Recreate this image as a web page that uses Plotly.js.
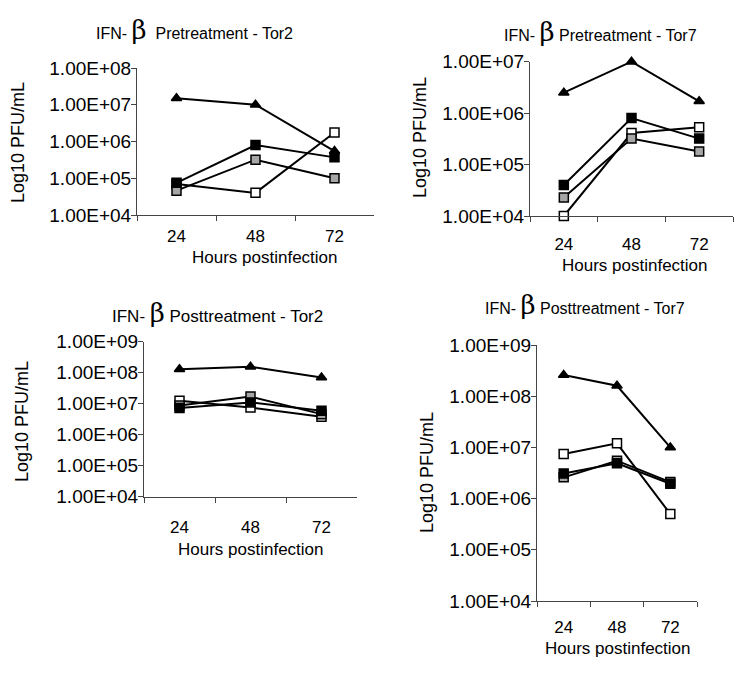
<!DOCTYPE html>
<html>
<head>
<meta charset="utf-8">
<script src="https://cdn.plot.ly/plotly-3.0.1.min.js"></script>
<style>
  html, body { margin: 0; padding: 0; background: #fff; }
  #chart { width: 750px; height: 673px; }
</style>
</head>
<body>
<div id="chart"></div>
<script>
// hours postinfection (categories)
var hours = ['24', '48', '72'];

// IFN-b pretreatment, Tor2
var preTor2Tri   = [1.5e7, 1.0e7, 5.5e5];
var preTor2Black = [7.5e4, 8.0e5, 3.7e5];
var preTor2Gray  = [4.6e4, 3.2e5, 1.0e5];
var preTor2White = [7.0e4, 4.0e4, 1.75e6];

// IFN-b pretreatment, Tor7
var preTor7Tri   = [2.5e6, 1.0e7, 1.7e6];
var preTor7Black = [4.0e4, 8.0e5, 3.2e5];
var preTor7Gray  = [2.3e4, 3.2e5, 1.8e5];
var preTor7White = [1.0e4, 4.1e5, 5.3e5];

// IFN-b posttreatment, Tor2
var postTor2Tri   = [1.3e8, 1.55e8, 7.0e7];
var postTor2Black = [7.2e6, 1.1e7, 5.9e6];
var postTor2Gray  = [8.7e6, 1.7e7, 4.6e6];
var postTor2White = [1.25e7, 7.5e6, 3.8e6];

// IFN-b posttreatment, Tor7
var postTor7Tri   = [2.6e8, 1.6e8, 1.0e7];
var postTor7Black = [3.1e6, 4.9e6, 1.95e6];
var postTor7Gray  = [2.6e6, 5.5e6, 2.1e6];
var postTor7White = [7.4e6, 1.2e7, 5.0e5];

var decadeVals = [1e4, 1e5, 1e6, 1e7, 1e8, 1e9];
var decadeText = ['1.00E+04', '1.00E+05', '1.00E+06', '1.00E+07', '1.00E+08', '1.00E+09'];

var FONT = 'Liberation Sans, Arial, sans-serif';

function series(x, y, axis, symbol, fill) {
  return {
    x: x, y: y,
    xaxis: 'x' + axis, yaxis: 'y' + axis,
    mode: 'lines+markers',
    cliponaxis: false,
    line: {color: '#000', width: 2},
    marker: {symbol: symbol, size: 9, color: fill, line: {color: '#000', width: 1.5}},
    showlegend: false,
    hoverinfo: 'x+y'
  };
}

function panel(n, tri, black, gray, white) {
  return [
    series(hours, tri, n, 'triangle-up', '#000'),
    series(hours, white, n, 'square', '#fff'),
    series(hours, gray, n, 'square', '#a6a6a6'),
    series(hours, black, n, 'square', '#000')
  ];
}

var data = []
  .concat(panel('', preTor2Tri, preTor2Black, preTor2Gray, preTor2White))
  .concat(panel('2', preTor7Tri, preTor7Black, preTor7Gray, preTor7White))
  .concat(panel('3', postTor2Tri, postTor2Black, postTor2Gray, postTor2White))
  .concat(panel('4', postTor7Tri, postTor7Black, postTor7Gray, postTor7White));

function xAxis(domain, anchor, standoff) {
  return {
    domain: domain, anchor: anchor,
    type: 'category', range: [-0.5, 2.5],
    showline: true, linecolor: '#444', linewidth: 1,
    ticks: 'outside', tickson: 'boundaries', ticklen: 5, tickcolor: '#444',
    ticklabelstandoff: standoff,
    showgrid: false, zeroline: false,
    tickfont: {family: FONT, size: 17, color: '#000'}
  };
}

function yAxis(domain, anchor, top) {
  return {
    domain: domain, anchor: anchor,
    type: 'log', range: [4, top],
    tickvals: decadeVals, ticktext: decadeText,
    showline: true, linecolor: '#444', linewidth: 1,
    ticks: 'outside', ticklen: 5, tickcolor: '#444',
    ticklabelstandoff: -4,
    showgrid: false, zeroline: false,
    tickfont: {family: FONT, size: 19, color: '#000'}
  };
}

function px(x) { return x / 750; }
function py(y) { return 1 - y / 673; }

var beta = '<span style="font-family:DejaVu Serif, serif;font-size:26px">β</span>';

function label(text, x, y, size, angle) {
  return {
    text: text, xref: 'paper', yref: 'paper',
    x: px(x), y: py(y), xanchor: 'center', yanchor: 'middle',
    showarrow: false, textangle: angle || 0,
    font: {family: FONT, size: size, color: '#000'}
  };
}

var layout = {
  width: 750, height: 673,
  margin: {l: 0, r: 0, t: 0, b: 0},
  paper_bgcolor: '#fff', plot_bgcolor: '#fff',
  xaxis:  xAxis([px(137), px(374)], 'y', 6),
  yaxis:  yAxis([py(215), py(68)], 'x', 8),
  xaxis2: xAxis([px(530), px(733)], 'y2', 13),
  yaxis2: yAxis([py(216), py(61.7)], 'x2', 7),
  xaxis3: xAxis([px(144), px(357)], 'y3', 15),
  yaxis3: yAxis([py(496.7), py(341.7)], 'x3', 9),
  xaxis4: xAxis([px(537), px(697)], 'y4', 11),
  yaxis4: yAxis([py(601), py(345)], 'x4', 9),
  annotations: [
    label('IFN- ' + beta + '  Pretreatment - Tor2', 194, 30, 16),
    label('IFN- ' + beta + ' Pretreatment - Tor7', 600, 32, 16),
    label('IFN- ' + beta + ' Posttreatment - Tor2', 217, 313, 17),
    label('IFN- ' + beta + ' Posttreatment - Tor7', 585, 305, 16),
    label('Log10 PFU/mL', 18, 143, 18, -90),
    label('Log10 PFU/mL', 420, 138, 18, -90),
    label('Log10 PFU/mL', 22, 422, 18, -90),
    label('Log10 PFU/mL', 427, 473, 18, -90),
    label('Hours postinfection', 265, 257, 17),
    label('Hours postinfection', 635, 266, 17),
    label('Hours postinfection', 251, 549, 17),
    label('Hours postinfection', 618, 648, 17)
  ]
};

Plotly.newPlot('chart', data, layout, {displayModeBar: false, staticPlot: true});
</script>
</body>
</html>
